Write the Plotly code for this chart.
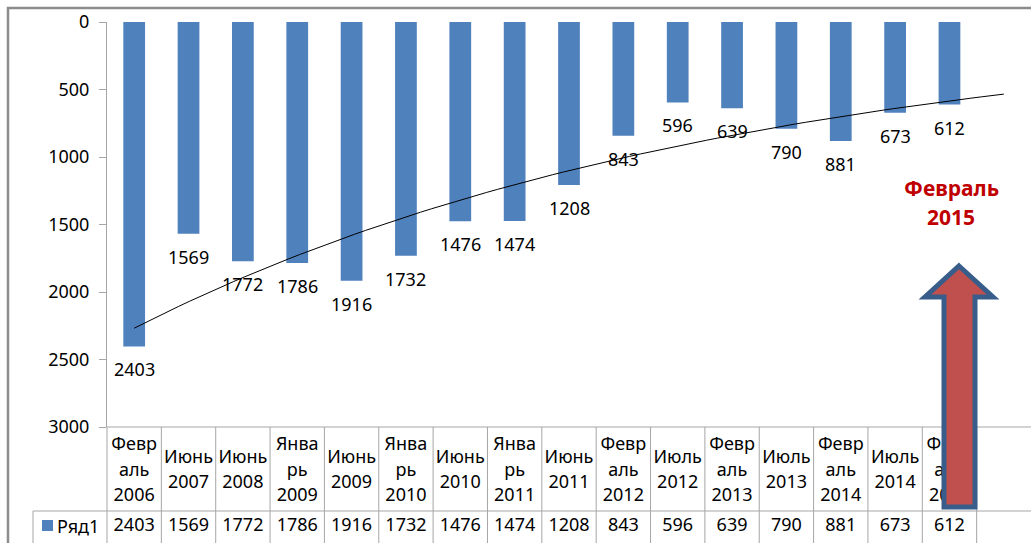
import numpy as np
import plotly.graph_objects as go

# Данные графика
categories = [
    "Февраль 2006", "Июнь 2007", "Июнь 2008", "Январь 2009", "Июнь 2009",
    "Январь 2010", "Июнь 2010", "Январь 2011", "Июнь 2011", "Февраль 2012",
    "Июль 2012", "Февраль 2013", "Июль 2013", "Февраль 2014", "Июль 2014",
    "Февраль 2015",
]
# как Excel переносит подписи в таблице данных
category_lines = [
    ["Февр", "аль", "2006"], ["Июнь", "2007"], ["Июнь", "2008"], ["Янва", "рь", "2009"],
    ["Июнь", "2009"], ["Янва", "рь", "2010"], ["Июнь", "2010"], ["Янва", "рь", "2011"],
    ["Июнь", "2011"], ["Февр", "аль", "2012"], ["Июль", "2012"], ["Февр", "аль", "2013"],
    ["Июль", "2013"], ["Февр", "аль", "2014"], ["Июль", "2014"], ["Февр", "аль", "2015"],
]
values = [2403, 1569, 1772, 1786, 1916, 1732, 1476, 1474, 1208, 843, 596, 639, 790, 881, 673, 612]
series_name = "Ряд1"
y_ticks = [0, 500, 1000, 1500, 2000, 2500, 3000]
callout_lines = ["Февраль", "2015"]

BLUE = "#4F81BD"
GRID = "#A6A6A6"
FONT = "Noto Sans"

# размеры холста и области построения (в пикселях)
W, H = 1031, 543
L, T, B = 107, 22, 427
N_COLS = 17
Y_MAX = 3000


def px(x):
    return x / W


def py(y):
    return (H - y) / H


def y_data(pix):
    # пиксель по вертикали -> значение на перевёрнутой оси
    return (pix - T) / (B - T) * Y_MAX


x_pos = np.arange(1, len(values) + 1)

# экспоненциальная линия тренда (как в Excel), с прогнозом на 1 период
coef = np.polyfit(x_pos, np.log(values), 1)
x_trend = np.linspace(1, len(values) + 1, 80)
y_trend = np.exp(coef[1] + coef[0] * x_trend)

fig = go.Figure()

fig.add_trace(go.Bar(
    x=x_pos, y=values, width=0.4,
    marker=dict(color=BLUE, line=dict(width=0)),
    showlegend=False, hoverinfo="skip",
))

fig.add_trace(go.Scatter(
    x=x_trend, y=y_trend, mode="lines",
    line=dict(color="black", width=1),
    showlegend=False, hoverinfo="skip",
))

# таблица данных: подписи категорий и значения (ось y2 - продолжение шкалы на всю высоту)
tx, ty, tt = [], [], []
for i, lines in enumerate(category_lines):
    n = len(lines)
    for j, s in enumerate(lines):
        tx.append(i + 1)
        ty.append(y_data(471 + (j - (n - 1) / 2) * 25.5))
        tt.append(s)
for i, v in enumerate(values):
    tx.append(i + 1)
    ty.append(y_data(526))
    tt.append(str(v))

fig.add_trace(go.Scatter(
    x=tx, y=ty, text=tt, mode="text", textposition="middle center",
    textfont=dict(family=FONT, size=18, color="black"),
    xaxis="x", yaxis="y2",
    cliponaxis=False, showlegend=False, hoverinfo="skip",
))

annotations = []
# подписи данных под концами столбцов
for i, v in enumerate(values):
    annotations.append(dict(
        x=i + 1, y=v, xref="x", yref="y", text=str(v), showarrow=False,
        yanchor="middle", yshift=-23,
        font=dict(family=FONT, size=18, color="black"),
    ))

annotations.append(dict(
    x=px(78), y=py(526), xref="paper", yref="paper", text=series_name,
    showarrow=False, xanchor="center", yanchor="middle",
    font=dict(family=FONT, size=18, color="black"),
))

for k, s in enumerate(callout_lines):
    annotations.append(dict(
        x=px(951), y=py(188 + k * 29), xref="paper", yref="paper", text="<b>%s</b>" % s,
        showarrow=False, xanchor="center", yanchor="middle",
        font=dict(family=FONT, size=21, color="#C00000"),
    ))

shapes = []
# внешняя рамка диаграммы
shapes.append(dict(
    type="path", xref="paper", yref="paper",
    path="M %f %f L %f %f L %f %f" % (px(8), py(560), px(8), py(8), px(1040), py(8)),
    line=dict(color="#8C8C8C", width=2.5),
))
# линии таблицы
col_w = (W - L) / N_COLS
shapes.append(dict(type="line", xref="paper", yref="paper",
                   x0=px(L), x1=1.02, y0=py(B), y1=py(B), line=dict(color=GRID, width=1)))
shapes.append(dict(type="line", xref="paper", yref="paper",
                   x0=px(33), x1=1.02, y0=py(511), y1=py(511), line=dict(color=GRID, width=1)))
for k in range(N_COLS):
    xk = px(L + k * col_w)
    shapes.append(dict(type="line", xref="paper", yref="paper",
                       x0=xk, x1=xk, y0=py(B), y1=py(560),
                       line=dict(color=GRID, width=1)))
shapes.append(dict(type="line", xref="paper", yref="paper",
                   x0=px(33), x1=px(33), y0=py(511), y1=py(560), line=dict(color=GRID, width=1)))
# маркер легенды
shapes.append(dict(type="rect", xref="paper", yref="paper",
                   x0=px(42), x1=px(53), y0=py(520), y1=py(531),
                   fillcolor=BLUE, line=dict(width=0)))

# стрелка
arrow = [(959, 266), (993, 297), (975, 297), (975, 507), (944, 507), (944, 297), (925, 297)]
path = "M " + " L ".join("%f %f" % (px(a), py(b)) for a, b in arrow) + " Z"
shapes.append(dict(type="path", xref="paper", yref="paper", path=path, layer="above",
                   fillcolor="#C0504D", line=dict(color="#385D8A", width=5)))

fig.update_layout(
    width=W, height=H,
    margin=dict(l=0, r=0, t=0, b=0, autoexpand=False),
    paper_bgcolor="white", plot_bgcolor="rgba(0,0,0,0)",
    showlegend=False,
    xaxis=dict(domain=[px(L), 1], range=[0.5, N_COLS + 0.5], visible=False,
               showgrid=False, zeroline=False, automargin=False),
    yaxis=dict(
        domain=[py(B), py(T)],
        range=[Y_MAX, 0], tickvals=y_ticks, ticks="outside", ticklen=7,
        tickcolor=GRID, showline=True, linecolor=GRID, linewidth=1,
        showgrid=False, zeroline=False, ticklabelstandoff=6, automargin=False,
        tickfont=dict(family=FONT, size=18, color="black"),
    ),
    yaxis2=dict(domain=[0, 1], range=[y_data(H), y_data(0)], anchor="x",
                visible=False, showgrid=False, zeroline=False, automargin=False),
    annotations=annotations,
    shapes=shapes,
)

fig.write_html("out.html", config={"displayModeBar": False},
               post_script="document.body.style.margin='0px';")
